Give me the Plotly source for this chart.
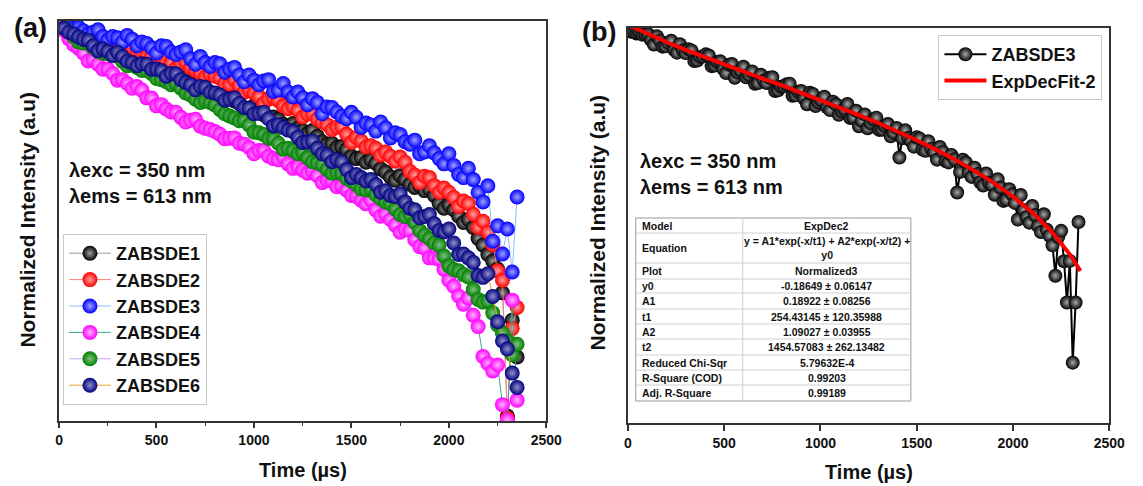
import plotly.graph_objects as go

W, H = 1143, 486
FONT = "Liberation Sans"

# ---------------- data ----------------
# Panel (a): decays sampled on two interleaved time grids
time_a = list(range(0, 2351, 50))
time_b = list(range(25, 2326, 50))

zabsde1_a = [1.000, 0.891, 0.851, 0.759, 0.724, 0.716, 0.631, 0.582, 0.589, 0.543, 0.490, 0.495,
             0.442, 0.447, 0.403, 0.363, 0.351, 0.347, 0.316, 0.285, 0.295, 0.260, 0.251, 0.226,
             0.229, 0.207, 0.207, 0.176, 0.172, 0.164, 0.143, 0.140, 0.136, 0.119, 0.106, 0.108,
             0.0955, 0.0933, 0.0891, 0.0724, 0.0708, 0.0603, 0.0575, 0.0437, 0.0347, 0.0282, 0.0034, 0.00794]
zabsde1_b = [0.93, 0.877, 0.79, 0.748, 0.688, 0.665, 0.617, 0.570, 0.552, 0.522, 0.478, 0.470,
             0.425, 0.420, 0.389, 0.349, 0.336, 0.329, 0.305, 0.280, 0.279, 0.248, 0.243, 0.220,
             0.214, 0.198, 0.190, 0.170, 0.162, 0.157, 0.138, 0.131, 0.129, 0.114, 0.101, 0.102,
             0.0912, 0.0871, 0.0813, 0.0676, 0.0661, 0.0550, 0.0513, 0.0398, 0.0316, 0.0200, 0.0135]

zabsde2_a = [1.000, 0.955, 0.832, 0.822, 0.813, 0.733, 0.668, 0.700, 0.653, 0.603, 0.631, 0.562,
             0.507, 0.556, 0.490, 0.447, 0.452, 0.407, 0.427, 0.359, 0.355, 0.305, 0.331, 0.295,
             0.292, 0.251, 0.263, 0.234, 0.209, 0.219, 0.174, 0.178, 0.166, 0.145, 0.143, 0.141,
             0.115, 0.0977, 0.105, 0.0851, 0.0851, 0.0692, 0.0724, 0.0513, 0.0479, 0.0275, 0.0033, 0.0162]
zabsde2_b = [0.97, 0.90, 0.845, 0.79, 0.76, 0.72, 0.69, 0.66, 0.64, 0.60, 0.585, 0.548,
             0.54, 0.51, 0.47, 0.462, 0.44, 0.402, 0.395, 0.37, 0.338, 0.325, 0.318, 0.283,
             0.277, 0.262, 0.244, 0.225, 0.217, 0.196, 0.187, 0.163, 0.160, 0.152, 0.133, 0.131,
             0.109, 0.107, 0.0935, 0.0905, 0.0790, 0.0750, 0.0620, 0.0560, 0.0400, 0.0240, 0.0120]

zabsde3_a = [1.000, 0.923, 0.912, 0.832, 0.881, 0.759, 0.785, 0.813, 0.700, 0.724, 0.631, 0.692,
             0.617, 0.661, 0.537, 0.550, 0.550, 0.479, 0.513, 0.417, 0.427, 0.422, 0.363, 0.407,
             0.335, 0.331, 0.327, 0.263, 0.288, 0.254, 0.269, 0.216, 0.224, 0.234, 0.186, 0.195,
             0.170, 0.148, 0.166, 0.138, 0.148, 0.110, 0.120, 0.0851, 0.0933, 0.0525, 0.0501, 0.0794]
zabsde3_b = [0.96, 0.90, 0.87, 0.85, 0.80, 0.80, 0.74, 0.77, 0.74, 0.68, 0.70, 0.64,
             0.64, 0.58, 0.60, 0.52, 0.54, 0.50, 0.46, 0.46, 0.40, 0.43, 0.37, 0.36,
             0.36, 0.30, 0.31, 0.29, 0.27, 0.245, 0.25, 0.23, 0.205, 0.215, 0.20, 0.176,
             0.18, 0.152, 0.150, 0.128, 0.125, 0.105, 0.102, 0.074, 0.042, 0.035, 0.027]

zabsde4_a = [1.000, 0.776, 0.676, 0.562, 0.537, 0.501, 0.427, 0.407, 0.389, 0.331, 0.295, 0.282,
             0.269, 0.234, 0.243, 0.214, 0.204, 0.184, 0.186, 0.170, 0.148, 0.155, 0.138, 0.141,
             0.120, 0.117, 0.115, 0.0977, 0.100, 0.093, 0.0813, 0.0759, 0.0759, 0.0603, 0.0575, 0.0479,
             0.0490, 0.0389, 0.0331, 0.0324, 0.0240, 0.0191, 0.0186, 0.0123, 0.00724, 0.00708, 0.0032, 0.00427]
zabsde4_b = [0.87, 0.71, 0.63, 0.57, 0.50, 0.47, 0.43, 0.38, 0.37, 0.33, 0.30, 0.27,
             0.25, 0.24, 0.22, 0.21, 0.196, 0.185, 0.172, 0.162, 0.155, 0.143, 0.136, 0.128,
             0.123, 0.112, 0.108, 0.101, 0.092, 0.088, 0.080, 0.072, 0.066, 0.062, 0.053, 0.050,
             0.043, 0.038, 0.033, 0.028, 0.022, 0.017, 0.0145, 0.0080, 0.0065, 0.0040, 0.018]

zabsde5_a = [1.000, 0.851, 0.741, 0.724, 0.646, 0.624, 0.603, 0.525, 0.513, 0.490, 0.437, 0.417,
             0.407, 0.355, 0.324, 0.316, 0.299, 0.263, 0.248, 0.240, 0.202, 0.195, 0.184, 0.158,
             0.155, 0.151, 0.132, 0.126, 0.112, 0.112, 0.100, 0.0891, 0.0891, 0.0776, 0.0724, 0.0617,
             0.0617, 0.0490, 0.0437, 0.0398, 0.0295, 0.0275, 0.0251, 0.0182, 0.0178, 0.0126, 0.0100, 0.00955]
zabsde5_b = [0.91, 0.80, 0.73, 0.68, 0.63, 0.61, 0.56, 0.53, 0.49, 0.47, 0.43, 0.40,
             0.38, 0.345, 0.31, 0.31, 0.28, 0.255, 0.238, 0.224, 0.20, 0.185, 0.172, 0.160,
             0.148, 0.140, 0.130, 0.118, 0.113, 0.104, 0.095, 0.088, 0.082, 0.074, 0.067, 0.060,
             0.055, 0.046, 0.041, 0.034, 0.028, 0.026, 0.021, 0.0175, 0.0150, 0.0112, 0.0082]

zabsde6_a = [1.000, 0.851, 0.794, 0.759, 0.653, 0.646, 0.638, 0.562, 0.525, 0.537, 0.501, 0.452,
             0.468, 0.412, 0.372, 0.385, 0.355, 0.320, 0.331, 0.288, 0.263, 0.269, 0.221, 0.216,
             0.204, 0.174, 0.178, 0.148, 0.132, 0.132, 0.105, 0.105, 0.102, 0.0851, 0.0813, 0.0832,
             0.0676, 0.0589, 0.0617, 0.0490, 0.0501, 0.0347, 0.0331, 0.0257, 0.0263, 0.0132, 0.00891, 0.00513]
zabsde6_b = [0.90, 0.83, 0.77, 0.70, 0.67, 0.61, 0.60, 0.55, 0.54, 0.50, 0.49, 0.47,
             0.43, 0.40, 0.39, 0.36, 0.345, 0.325, 0.305, 0.285, 0.265, 0.245, 0.225, 0.208,
             0.188, 0.175, 0.160, 0.145, 0.136, 0.118, 0.110, 0.100, 0.095, 0.087, 0.080, 0.074,
             0.066, 0.060, 0.054, 0.048, 0.041, 0.035, 0.031, 0.025, 0.019, 0.0100, 0.0063]

series_names = ["ZABSDE1", "ZABSDE2", "ZABSDE3", "ZABSDE4", "ZABSDE5", "ZABSDE6"]
series_a = [zabsde1_a, zabsde2_a, zabsde3_a, zabsde4_a, zabsde5_a, zabsde6_a]
series_b = [zabsde1_b, zabsde2_b, zabsde3_b, zabsde4_b, zabsde5_b, zabsde6_b]

# Panel (b): ZABSDE3 normalized decay, two interleaved time grids
time_r_a = list(range(0, 2341, 30))
time_r_b = list(range(15, 2326, 30))
zabsde3_norm_a = [1.000, 0.982, 0.966, 0.948, 0.875, 0.925, 0.794, 0.841, 0.759, 0.822, 0.724, 0.752,
                  0.649, 0.689, 0.698, 0.603, 0.641, 0.541, 0.617, 0.545, 0.593, 0.525, 0.463, 0.528,
                  0.468, 0.508, 0.420, 0.446, 0.463, 0.391, 0.416, 0.343, 0.399, 0.352, 0.383, 0.315,
                  0.343, 0.310, 0.344, 0.283, 0.249, 0.296, 0.261, 0.282, 0.237, 0.257, 0.226, 0.158,
                  0.235, 0.201, 0.212, 0.177, 0.200, 0.171, 0.184, 0.150, 0.164, 0.0948, 0.153, 0.127,
                  0.136, 0.110, 0.125, 0.106, 0.115, 0.0839, 0.0995, 0.0815, 0.0914, 0.0662, 0.0778,
                  0.0582, 0.0690, 0.0505, 0.0282, 0.0542, 0.0191, 0.00794, 0.0617]
zabsde3_norm_b = [0.990, 0.962, 0.946, 0.953, 0.820, 0.867, 0.798, 0.865, 0.728, 0.754,
                  0.764, 0.644, 0.684, 0.710, 0.598, 0.635, 0.575, 0.611, 0.505, 0.561,
                  0.508, 0.553, 0.467, 0.485, 0.505, 0.416, 0.443, 0.459, 0.388, 0.412,
                  0.373, 0.406, 0.334, 0.363, 0.328, 0.356, 0.294, 0.319, 0.281, 0.312,
                  0.269, 0.242, 0.275, 0.236, 0.250, 0.215, 0.243, 0.209, 0.210, 0.185,
                  0.208, 0.174, 0.179, 0.153, 0.172, 0.147, 0.154, 0.128, 0.147, 0.119,
                  0.124, 0.105, 0.109, 0.0918, 0.102, 0.0853, 0.0923, 0.0640, 0.0735, 0.0611,
                  0.0681, 0.0533, 0.0551, 0.0439, 0.0498, 0.0348, 0.0350, 0.0191]

fit_time = list(range(0, 2301, 100)) + [2350]
fit_values = [1.093, 0.959, 0.850, 0.759, 0.681, 0.613, 0.553, 0.499, 0.451, 0.406, 0.365, 0.328,
              0.293, 0.261, 0.231, 0.203, 0.177, 0.153, 0.130, 0.109, 0.0893, 0.0709, 0.0538, 0.0378, 0.0302]

table_rows = [
    ("Model", "ExpDec2"),
    ("Equation", "y = A1*exp(-x/t1) + A2*exp(-x/t2) +<br>y0"),
    ("Plot", "Normalized3"),
    ("y0", "-0.18649 ± 0.06147"),
    ("A1", "0.18922 ± 0.08256"),
    ("t1", "254.43145 ± 120.35988"),
    ("A2", "1.09027 ± 0.03955"),
    ("t2", "1454.57083 ± 262.13482"),
    ("Reduced Chi-Sqr", "5.79632E-4"),
    ("R-Square (COD)", "0.99203"),
    ("Adj. R-Square", "0.99189"),
]

# ---------------- styles ----------------
marker_colors = ["#000000", "#ff0000", "#0000ff", "#ff00ff", "#008000", "#000080"]
marker_centers = ["#a0a0a0", "#ffa0a0", "#a0a0ff", "#ffb0ff", "#80c080", "#9090c8"]
line_colors = ["#9a9a9a", "#ff8080", "#8fbcff", "#3aa88a", "#c9a8f0", "#e8a530"]


def merge(xa, ya, xb, yb):
    pairs = sorted(zip(xa + xb, ya + yb), key=lambda p: p[0])
    return [p[0] for p in pairs], [p[1] for p in pairs]


def px(x):
    return x / W


def py(y):
    return 1 - y / H


fig = go.Figure()

for name, va, vb, mc, cc, lc in zip(series_names, series_a, series_b, marker_colors,
                                     marker_centers, line_colors):
    xs, ys = merge(time_a, va, time_b, vb)
    fig.add_trace(go.Scatter(
        x=xs, y=ys, name=name, mode="lines+markers",
        line=dict(color=lc, width=1),
        marker=dict(color=mc, size=15, line=dict(width=0),
                    gradient=dict(type="radial", color=cc)),
        xaxis="x", yaxis="y", legend="legend",
    ))

xr, yr = merge(time_r_a, zabsde3_norm_a, time_r_b, zabsde3_norm_b)
fig.add_trace(go.Scatter(
    x=xr, y=yr, name="ZABSDE3", mode="lines+markers",
    line=dict(color="#000000", width=2),
    marker=dict(color="#000000", size=14, line=dict(width=0),
                gradient=dict(type="radial", color="#a8a8a8")),
    xaxis="x2", yaxis="y2", legend="legend2",
))
fig.add_trace(go.Scatter(
    x=fit_time, y=fit_values, name="ExpDecFit-2", mode="lines",
    line=dict(color="#ff0000", width=4),
    xaxis="x2", yaxis="y2", legend="legend2",
))

axis_common = dict(showline=True, mirror=True, linecolor="#333333", linewidth=1.6,
                   showgrid=False, zeroline=False)
tickfont = dict(family=FONT, size=14, color="#111111", weight="bold")

fig.update_layout(
    width=W, height=H,
    margin=dict(l=0, r=0, t=0, b=0),
    paper_bgcolor="white", plot_bgcolor="white",
    font=dict(family=FONT, color="#111111"),
    xaxis=dict(domain=[px(56), px(552)], range=[0, 2500], anchor="y",
               tickvals=[0, 500, 1000, 1500, 2000, 2500], ticks="outside", ticklen=5,
               tickwidth=1.5, tickcolor="#333333", tickfont=tickfont,
               minor=dict(ticks="outside", ticklen=3, tickwidth=1.2, tickcolor="#333333", dtick=250),
               **axis_common),
    yaxis=dict(domain=[py(421), py(21)], type="log", range=[-2.5, 0.0], anchor="x",
               showticklabels=False, ticks="", **axis_common),
    xaxis2=dict(domain=[px(635), px(1125)], range=[0, 2500], anchor="y2",
                tickvals=[0, 500, 1000, 1500, 2000, 2500], ticks="outside", ticklen=6,
                tickwidth=1.5, tickcolor="#333333", tickfont=tickfont, **axis_common),
    yaxis2=dict(domain=[py(423), py(28)], type="log", range=[-2.482, 0.018], anchor="x2",
                showticklabels=False, ticks="", **axis_common),
    legend=dict(x=px(60), y=py(234), xanchor="left", yanchor="top",
                bgcolor="white", bordercolor="#c8c8c8", borderwidth=1,
                font=dict(family=FONT, size=18, color="#111111", weight="bold"),
                itemwidth=42, tracegroupgap=0),
    legend2=dict(x=px(1118), y=py(35), xanchor="right", yanchor="top",
                 bgcolor="white", bordercolor="#c8c8c8", borderwidth=1,
                 font=dict(family=FONT, size=18, color="#111111", weight="bold"),
                 itemwidth=42, tracegroupgap=0),
    showlegend=True,
)

ann = []


def text(x, y, s, size, xanchor="left", yanchor="middle", angle=0):
    ann.append(dict(x=px(x), y=py(y), xref="paper", yref="paper", text=s, showarrow=False,
                    xanchor=xanchor, yanchor=yanchor, textangle=angle,
                    font=dict(family=FONT, size=size, color="#111111", weight="bold")))


# panel labels
text(27, 28, "(a)", 27, xanchor="center")
text(606, 32, "(b)", 27, xanchor="center")
# wavelength labels
text(64, 170, "λexc = 350 nm", 20)
text(64, 196, "λems = 613 nm", 20)
text(645, 161, "λexc = 350 nm", 20)
text(645, 187, "λems = 613 nm", 20)
# axis titles
text(304, 470, "Time (µs)", 20, xanchor="center")
text(880, 472, "Time (µs)", 20, xanchor="center")
text(24, 220, "Normalized Intensity (a.u)", 21, xanchor="center", angle=-90)
text(604, 222, "Normalized Intensity (a.u)", 21, xanchor="center", angle=-90)

# fit-result table
tx0, tx1, txm = 643, 923, 752
row_bounds = [218, 233, 263, 279, 293, 309, 324, 339, 355, 370, 385, 401]
shapes = [dict(type="rect", xref="paper", yref="paper", x0=px(tx0), x1=px(tx1),
               y0=py(row_bounds[-1]), y1=py(row_bounds[0]),
               line=dict(color="#9a9a9a", width=1), fillcolor="white", layer="above")]
for yb in row_bounds[1:-1]:
    shapes.append(dict(type="line", xref="paper", yref="paper", x0=px(tx0), x1=px(tx1),
                       y0=py(yb), y1=py(yb), line=dict(color="#d0d0d0", width=1), layer="above"))
shapes.append(dict(type="line", xref="paper", yref="paper", x0=px(txm), x1=px(txm),
                   y0=py(row_bounds[0]), y1=py(row_bounds[-1]),
                   line=dict(color="#d0d0d0", width=1), layer="above"))
for i, (k, v) in enumerate(table_rows):
    yc = (row_bounds[i] + row_bounds[i + 1]) / 2
    ann.append(dict(x=px(tx0 + 4), y=py(yc), xref="paper", yref="paper", text=k, showarrow=False,
                    xanchor="left", yanchor="middle",
                    font=dict(family=FONT, size=10.5, color="#111111", weight="bold")))
    ann.append(dict(x=px((txm + tx1) / 2), y=py(yc), xref="paper", yref="paper", text=v,
                    showarrow=False, xanchor="center", yanchor="middle", align="center",
                    font=dict(family=FONT, size=10.5, color="#111111", weight="bold")))

fig.update_layout(annotations=ann, shapes=shapes)

fig.write_html("out.html")
